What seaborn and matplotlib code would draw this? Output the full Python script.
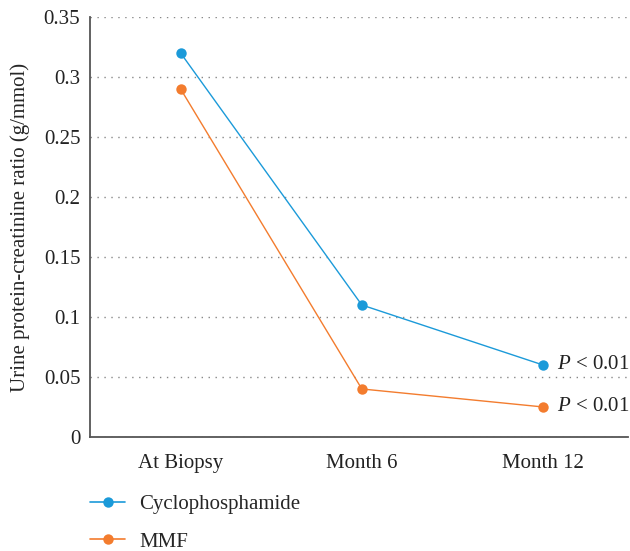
import matplotlib
matplotlib.use("Agg")
import matplotlib.pyplot as plt
import seaborn as sns
import pandas as pd
from matplotlib.lines import Line2D

categories = ["At Biopsy", "Month 6", "Month 12"]
cyclo = [0.32, 0.11, 0.06]
mmf = [0.29, 0.04, 0.025]
series_names = ["Cyclophosphamide", "MMF"]
colors = ["#1b9ad9", "#f37c2e"]
yticks = [0, 0.05, 0.1, 0.15, 0.2, 0.25, 0.3, 0.35]
ytick_labels = ["0", "0.05", "0.1", "0.15", "0.2", "0.25", "0.3", "0.35"]

sns.set_style("white")
plt.rcParams["font.family"] = ["Liberation Serif", "DejaVu Serif"]
plt.rcParams["mathtext.fontset"] = "custom"
plt.rcParams["mathtext.it"] = "Liberation Serif:italic"
plt.rcParams["mathtext.rm"] = "Liberation Serif"

FS = 15

df = pd.DataFrame({
    "x": list(range(len(categories))) * 2,
    "y": cyclo + mmf,
    "series": [series_names[0]] * 3 + [series_names[1]] * 3,
})

fig = plt.figure(figsize=(6.3, 5.51), dpi=100)
ax = fig.add_axes([0.143, 0.207, 0.854, 0.762])
sns.lineplot(data=df, x="x", y="y", hue="series", palette=colors, marker="o",
             markersize=7.5, markeredgewidth=0, linewidth=1, ax=ax, legend=False, zorder=3)

ax.set_xlim(-0.5, 2.47)
ax.set_ylim(0, 0.35)
ax.set_xticks(range(len(categories)))
ax.set_xticklabels(categories, fontsize=FS)
ax.set_yticks(yticks)
ax.set_yticklabels(ytick_labels, fontsize=FS)
ax.set_xlabel("")
ax.set_ylabel("Urine protein-creatinine ratio (g/mmol)", fontsize=FS, labelpad=10)
ax.tick_params(axis="y", length=0, pad=7, colors="#222222")
ax.tick_params(axis="x", length=0, pad=12, colors="#222222")
ax.yaxis.grid(True, linestyle=(0, (1, 4)), color="#888888", linewidth=1)
ax.xaxis.grid(False)
for s in ["top", "right"]:
    ax.spines[s].set_visible(False)
for s in ["left", "bottom"]:
    ax.spines[s].set_color("#555555")
    ax.spines[s].set_linewidth(1.3)

for vals in [cyclo, mmf]:
    ax.text(2.08, vals[-1], r"$P$ < 0.01", fontsize=FS, va="center", ha="left",
            color="#222222")

handles = [Line2D([0], [0], color=c, marker="o", markersize=7.5, markeredgewidth=0, linewidth=1.2)
           for c in colors]
fig.legend(handles, series_names, loc="upper left", bbox_to_anchor=(0.143, 0.102),
           frameon=False, fontsize=FS, handlelength=1.68, handletextpad=0.67,
           labelspacing=0.85, borderpad=0, borderaxespad=0)

fig.savefig("out.png", dpi=100)
